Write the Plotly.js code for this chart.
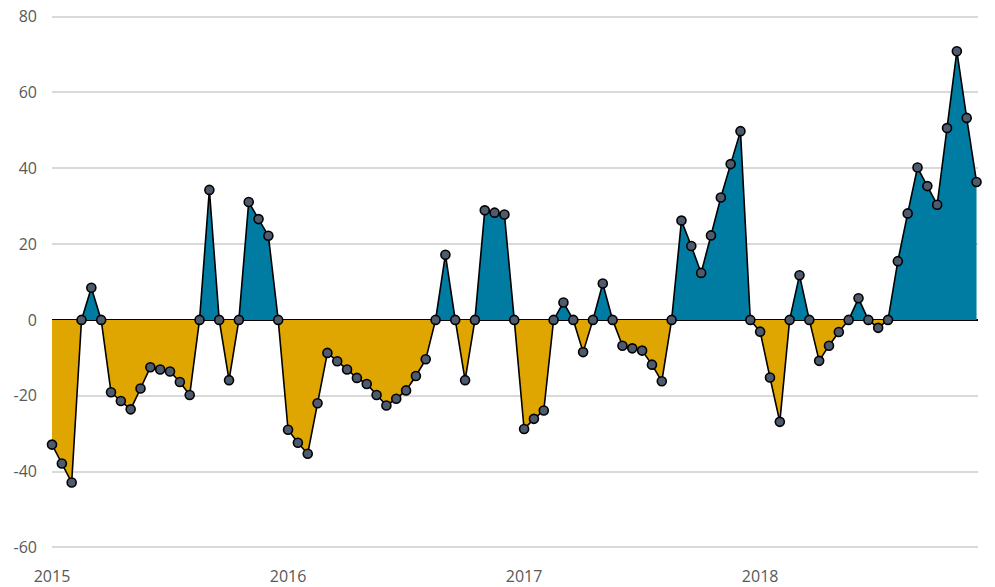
<!DOCTYPE html>
<html>
<head>
<meta charset="utf-8">
<script src="https://cdn.plot.ly/plotly-3.0.1.min.js"></script>
<style>html,body{margin:0;padding:0;background:#fff}#chart{width:995px;height:587px}</style>
</head>
<body>
<div id="chart"></div>
<script>
// Series values (semi-monthly, 24 points per year, starting 2015)
const values = [
  -32.9, -37.9, -42.9, 0, 8.5, 0, -19.1, -21.4, -23.6, -18.1, -12.5, -13.1, -13.6, -16.4, -19.8, 0,
  34.3, 0, -15.9, 0, 31.1, 26.6, 22.2, 0,
  -29.0, -32.4, -35.3, -22.0, -8.7, -10.9, -13.1, -15.3, -16.9, -19.8, -22.6, -20.8, -18.6, -14.8, -10.4, 0,
  17.2, 0, -15.9, 0, 28.9, 28.3, 27.8, 0,
  -28.8, -26.1, -23.9, 0, 4.6, 0, -8.5, 0, 9.6, 0, -6.8, -7.5, -8.1, -11.8, -16.2, 0,
  26.2, 19.5, 12.4, 22.3, 32.3, 41.1, 49.8, 0,
  -3.1, -15.2, -26.9, 0, 11.8, 0, -10.8, -6.8, -3.2, 0, 5.7, 0, -2.1, 0,
  15.5, 28.1, 40.2, 35.3, 30.4, 50.6, 70.9, 53.3, 36.4
];
const yearLabels = ['2015', '2016', '2017', '2018'];
const yearStartIndex = [0, 24, 48, 72];
const yTickVals = [-60, -40, -20, 0, 20, 40, 60, 80];
const yTickText = ['-60', '-40', '-20', '0', '20', '40', '60', '80'];

const xs = values.map((_, i) => i);
const pos = values.map(v => Math.max(v, 0));
const neg = values.map(v => Math.min(v, 0));

const traces = [
  {x: xs, y: neg, type: 'scatter', mode: 'lines', fill: 'tozeroy',
   fillcolor: '#DFA500', line: {width: 0, color: 'rgba(0,0,0,0)'}, hoverinfo: 'skip', showlegend: false},
  {x: xs, y: pos, type: 'scatter', mode: 'lines', fill: 'tozeroy',
   fillcolor: '#007BA2', line: {width: 0, color: 'rgba(0,0,0,0)'}, hoverinfo: 'skip', showlegend: false},
  {x: xs, y: values, type: 'scatter', mode: 'lines+markers', cliponaxis: false,
   line: {color: '#000000', width: 1.6},
   marker: {size: 9, color: '#4E5B6E', line: {color: '#000000', width: 1.6}},
   showlegend: false}
];

const layout = {
  width: 995, height: 587,
  margin: {l: 52, r: 17, t: 11, b: 34},
  paper_bgcolor: '#ffffff', plot_bgcolor: '#ffffff',
  font: {family: 'Open Sans, sans-serif', size: 16, color: '#595959'},
  showlegend: false,
  xaxis: {
    range: [0, 94.15], showgrid: false, zeroline: false, showline: false,
    tickmode: 'array', tickvals: yearStartIndex, ticktext: yearLabels,
    ticks: '', ticklabelstandoff: 12, tickfont: {size: 16, color: '#595959'}
  },
  yaxis: {
    range: [-61.5, 81.5], tickmode: 'array', tickvals: yTickVals, ticktext: yTickText,
    showgrid: true, gridcolor: '#D9D9D9', gridwidth: 2,
    zeroline: true, zerolinecolor: '#000000', zerolinewidth: 1.6,
    showline: false, ticks: '', ticklabelstandoff: 14,
    tickfont: {size: 16, color: '#595959'}
  }
};

Plotly.newPlot('chart', traces, layout, {displayModeBar: false, staticPlot: true});
</script>
</body>
</html>
